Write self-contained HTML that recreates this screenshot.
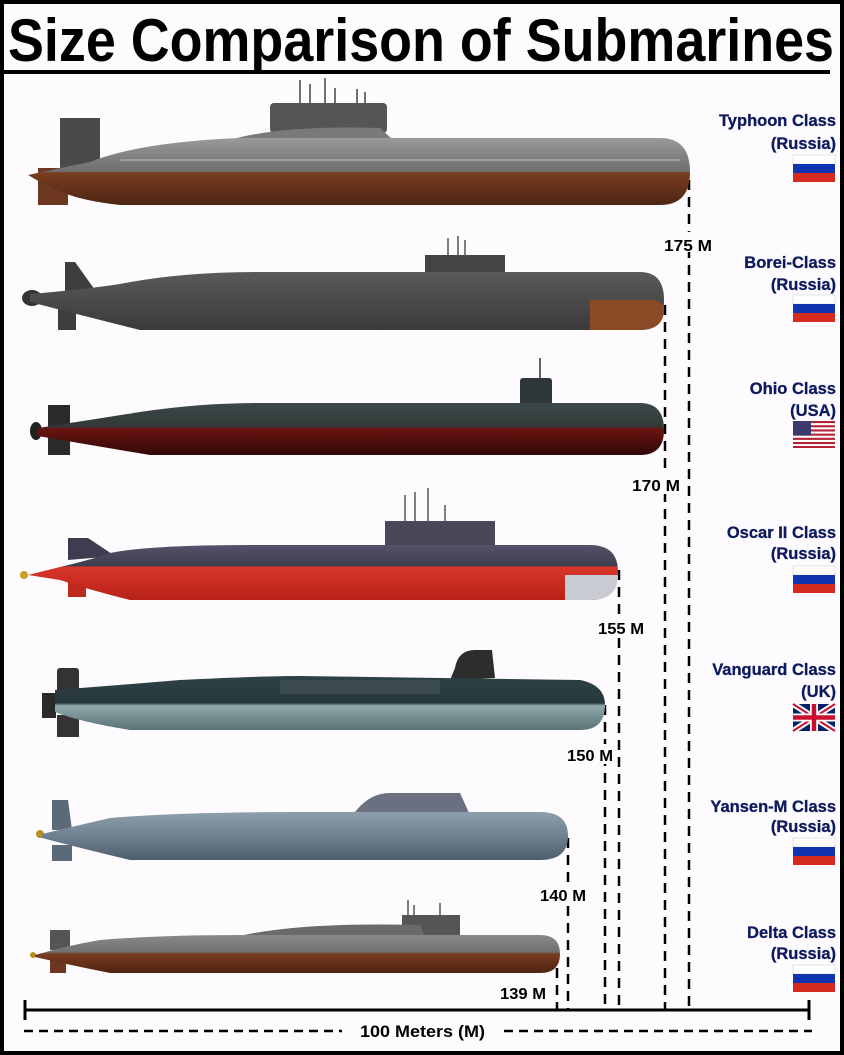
<!DOCTYPE html>
<html><head><meta charset="utf-8"><style>
html,body{margin:0;padding:0;background:#fff}
svg{display:block}
text{font-family:"Liberation Sans",sans-serif;font-weight:bold}
</style></head><body>
<svg width="844" height="1055" viewBox="0 0 844 1055" xmlns="http://www.w3.org/2000/svg">
<rect x="0" y="0" width="844" height="1055" fill="#fdfbfd"/>
<rect x="2" y="2" width="840" height="1051" fill="none" stroke="#000" stroke-width="4"/>
<text x="8" y="61" font-size="60" textLength="826" lengthAdjust="spacingAndGlyphs" fill="#000">Size Comparison of Submarines</text>
<rect x="4" y="70" width="826" height="4" fill="#000"/>

<g stroke="#000" stroke-width="2.5" stroke-dasharray="10,7">
<line x1="689" y1="180" x2="689" y2="1010"/>
<line x1="665" y1="305" x2="665" y2="1010"/>
<line x1="619" y1="570" x2="619" y2="1010"/>
<line x1="605" y1="705" x2="605" y2="1010"/>
<line x1="568" y1="838" x2="568" y2="1010"/>
<line x1="557" y1="968" x2="557" y2="1010"/>
</g>
<g font-size="16" fill="#000">
<rect x="662" y="232" width="52" height="20" fill="#fdfbfd"/><text x="664" y="251" textLength="48" lengthAdjust="spacingAndGlyphs">175 M</text>
<rect x="630" y="474" width="52" height="20" fill="#fdfbfd"/><text x="632" y="491" textLength="48" lengthAdjust="spacingAndGlyphs">170 M</text>
<rect x="596" y="617" width="50" height="20" fill="#fdfbfd"/><text x="598" y="634" textLength="46" lengthAdjust="spacingAndGlyphs">155 M</text>
<rect x="565" y="744" width="48" height="20" fill="#fdfbfd"/><text x="567" y="761" textLength="46" lengthAdjust="spacingAndGlyphs">150 M</text>
<rect x="538" y="884" width="50" height="20" fill="#fdfbfd"/><text x="540" y="901" textLength="46" lengthAdjust="spacingAndGlyphs">140 M</text>
<text x="500" y="999" textLength="46" lengthAdjust="spacingAndGlyphs">139 M</text>
</g>

<line x1="24" y1="1010" x2="810" y2="1010" stroke="#000" stroke-width="3"/>
<line x1="25" y1="1000" x2="25" y2="1020" stroke="#000" stroke-width="3"/>
<line x1="809" y1="1000" x2="809" y2="1020" stroke="#000" stroke-width="3"/>
<g stroke="#000" stroke-width="2.5" stroke-dasharray="9,6">
<line x1="24" y1="1031" x2="342" y2="1031"/>
<line x1="504" y1="1031" x2="812" y2="1031"/>
</g>
<text x="360" y="1037" font-size="17" textLength="125" lengthAdjust="spacingAndGlyphs">100 Meters (M)</text>

<g font-size="16.5" fill="#0d1a5e" text-anchor="end" stroke="#0d1a5e" stroke-width="0.3">
<text x="836" y="126">Typhoon Class</text><text x="836" y="149">(Russia)</text>
<text x="836" y="268">Borei-Class</text><text x="836" y="290">(Russia)</text>
<text x="836" y="394">Ohio Class</text><text x="836" y="416">(USA)</text>
<text x="836" y="538">Oscar II Class</text><text x="836" y="559">(Russia)</text>
<text x="836" y="675">Vanguard Class</text><text x="836" y="697">(UK)</text>
<text x="836" y="812">Yansen-M Class</text><text x="836" y="832">(Russia)</text>
<text x="836" y="938">Delta Class</text><text x="836" y="959">(Russia)</text>
</g>
<g id="ru1"><rect x="793" y="155" width="42" height="9" fill="#fff" stroke="#ccc" stroke-width="0.5"/><rect x="793" y="164" width="42" height="9" fill="#1034b0"/><rect x="793" y="173" width="42" height="9" fill="#d52b1e"/></g>
<use href="#ru1" y="140"/>
<use href="#ru1" y="411"/>
<use href="#ru1" y="683"/>
<use href="#ru1" y="810"/>
<g>
<rect x="793" y="421" width="42" height="27" fill="#fff"/>
<g fill="#b22234"><rect x="793" y="421" width="42" height="2.1"/><rect x="793" y="425.2" width="42" height="2.1"/><rect x="793" y="429.4" width="42" height="2.1"/><rect x="793" y="433.6" width="42" height="2.1"/><rect x="793" y="437.8" width="42" height="2.1"/><rect x="793" y="442" width="42" height="2.1"/><rect x="793" y="446" width="42" height="2"/></g>
<rect x="793" y="421" width="18" height="14.5" fill="#3c3b6e"/>
</g>
<g>
<rect x="793" y="704" width="42" height="27" fill="#012169"/>
<path d="M793 704L835 731M835 704L793 731" stroke="#fff" stroke-width="6"/>
<path d="M793 704L835 731M835 704L793 731" stroke="#c8102e" stroke-width="2"/>
<path d="M814 704V731M793 717.5H835" stroke="#fff" stroke-width="8"/>
<path d="M814 704V731M793 717.5H835" stroke="#c8102e" stroke-width="4.5"/>
</g>

<defs>
<linearGradient id="g1" x1="0" y1="0" x2="0" y2="1"><stop offset="0" stop-color="#9a9a9a"/><stop offset="0.5" stop-color="#6e6e6e"/><stop offset="0.52" stop-color="#7a3c20"/><stop offset="1" stop-color="#4e2614"/></linearGradient>
<linearGradient id="g2" x1="0" y1="0" x2="0" y2="1"><stop offset="0" stop-color="#5a5a5a"/><stop offset="1" stop-color="#3a3a3a"/></linearGradient>
<linearGradient id="g3" x1="0" y1="0" x2="0" y2="1"><stop offset="0" stop-color="#3d4848"/><stop offset="0.45" stop-color="#323838"/><stop offset="0.5" stop-color="#6a1410"/><stop offset="1" stop-color="#300808"/></linearGradient>
<linearGradient id="g4" x1="0" y1="0" x2="0" y2="1"><stop offset="0" stop-color="#55526a"/><stop offset="0.38" stop-color="#3e3c4e"/><stop offset="0.4" stop-color="#d8362a"/><stop offset="1" stop-color="#b82218"/></linearGradient>
<linearGradient id="g5" x1="0" y1="0" x2="0" y2="1"><stop offset="0" stop-color="#2e4246"/><stop offset="0.5" stop-color="#26383c"/><stop offset="0.55" stop-color="#8fa8ac"/><stop offset="1" stop-color="#5a7276"/></linearGradient>
<linearGradient id="g6" x1="0" y1="0" x2="0" y2="1"><stop offset="0" stop-color="#8e9eac"/><stop offset="0.5" stop-color="#6f8090"/><stop offset="1" stop-color="#4e5e6e"/></linearGradient>
<linearGradient id="g7" x1="0" y1="0" x2="0" y2="1"><stop offset="0" stop-color="#8a8a8a"/><stop offset="0.45" stop-color="#707070"/><stop offset="0.5" stop-color="#7a3c20"/><stop offset="1" stop-color="#4e2412"/></linearGradient>
</defs>

<g>
<rect x="60" y="118" width="40" height="55" fill="#4a4a4a"/>
<rect x="38" y="168" width="30" height="37" fill="#6e3820"/>
<rect x="270" y="103" width="117" height="30" rx="4" fill="#555"/>
<path d="M230 140 Q280 125 380 128 L395 142Z" fill="#7a7a7a"/>
<g stroke="#444" stroke-width="1.5"><line x1="300" y1="80" x2="300" y2="103"/><line x1="310" y1="84" x2="310" y2="103"/><line x1="325" y1="78" x2="325" y2="103"/><line x1="335" y1="88" x2="335" y2="103"/><line x1="357" y1="89" x2="357" y2="103"/><line x1="365" y1="92" x2="365" y2="103"/></g>
<path d="M28 175 Q60 168 90 162 Q140 142 240 138 L660 138 Q690 138 690 172 Q690 205 660 205 L120 205 Q70 200 40 182 Z" fill="url(#g1)"/>
<line x1="120" y1="160" x2="680" y2="160" stroke="#bbb" stroke-width="1"/>
</g>

<g>
<path d="M65 262 L75 262 L95 290 L65 295Z" fill="#3e3e3e"/>
<rect x="58" y="300" width="18" height="30" fill="#3e3e3e"/>
<rect x="425" y="255" width="80" height="22" fill="#444"/>
<g stroke="#555" stroke-width="1.5"><line x1="448" y1="238" x2="448" y2="256"/><line x1="458" y1="236" x2="458" y2="256"/><line x1="465" y1="240" x2="465" y2="256"/></g>
<ellipse cx="32" cy="298" rx="10" ry="8" fill="#333"/>
<path d="M30 294 Q80 290 120 284 Q180 272 260 272 L640 272 Q664 272 664 300 Q664 330 640 330 L140 330 Q80 315 30 302Z" fill="url(#g2)"/>
<path d="M590 300 L650 300 Q664 300 664 312 Q662 330 640 330 L590 330Z" fill="#8a4a25"/>
</g>

<g>
<rect x="48" y="405" width="22" height="50" fill="#2a2a2a"/>
<rect x="520" y="378" width="32" height="28" rx="3" fill="#2e3838"/>
<line x1="540" y1="358" x2="540" y2="378" stroke="#333" stroke-width="1.5"/>
<ellipse cx="36" cy="431" rx="6" ry="9" fill="#222"/>
<path d="M38 428 Q90 420 140 412 Q200 403 260 403 L640 403 Q664 403 664 430 Q664 455 640 455 L150 455 Q90 445 38 436Z" fill="url(#g3)"/>
</g>

<g>
<path d="M68 538 L88 538 L115 556 L68 560Z" fill="#3e3c4e"/>
<rect x="68" y="575" width="18" height="22" fill="#c02a1e"/>
<rect x="385" y="521" width="110" height="25" fill="#4a4858"/>
<g stroke="#555" stroke-width="1.5"><line x1="405" y1="495" x2="405" y2="521"/><line x1="415" y1="492" x2="415" y2="521"/><line x1="428" y1="488" x2="428" y2="521"/><line x1="445" y1="505" x2="445" y2="521"/></g>
<circle cx="24" cy="575" r="4" fill="#c8a020"/>
<path d="M28 575 L60 567 Q90 560 110 553 Q150 545 250 545 L590 545 Q618 545 618 572 Q618 600 590 600 L130 600 Q90 590 60 580Z" fill="url(#g4)"/>
<path d="M565 575 L618 575 Q618 600 590 600 L565 600Z" fill="#c8ccd2"/>
</g>

<g>
<rect x="57" y="668" width="22" height="40" rx="3" fill="#333"/>
<rect x="57" y="715" width="22" height="22" fill="#333"/>
<path d="M455 668 Q458 650 475 650 L492 650 L495 678 L450 680Z" fill="#2d2d2d"/>
<rect x="42" y="693" width="14" height="25" fill="#2a2a2a"/>
<path d="M55 690 Q120 685 180 680 Q260 676 300 676 L580 680 Q605 685 605 705 Q605 730 580 730 L130 730 Q80 722 55 712Z" fill="url(#g5)"/>
<rect x="280" y="680" width="160" height="14" fill="#3a4a50"/>
</g>

<g>
<path d="M52 800 L68 800 L72 830 L52 830Z" fill="#5a6a78"/>
<rect x="52" y="845" width="20" height="16" fill="#5a6a78"/>
<path d="M355 812 Q370 793 390 793 L460 793 L470 815Z" fill="#6a7080"/>
<circle cx="40" cy="834" r="4" fill="#b89020"/>
<path d="M42 834 Q80 825 110 818 Q180 812 300 812 L540 812 Q568 812 568 836 Q568 860 540 860 L130 860 Q80 848 42 838Z" fill="url(#g6)"/>
</g>

<g>
<rect x="50" y="930" width="20" height="20" fill="#555"/>
<rect x="50" y="955" width="16" height="18" fill="#6e3820"/>
<rect x="402" y="915" width="58" height="22" fill="#555"/>
<g stroke="#555" stroke-width="1.5"><line x1="408" y1="900" x2="408" y2="915"/><line x1="414" y1="905" x2="414" y2="915"/><line x1="440" y1="903" x2="440" y2="915"/></g>
<path d="M240 936 Q300 922 420 925 L425 936Z" fill="#6a6a6a"/>
<circle cx="33" cy="955" r="3" fill="#b89020"/>
<path d="M35 955 Q70 945 100 940 Q160 935 240 935 L540 935 Q560 935 560 954 Q560 973 540 973 L110 973 Q70 965 35 957Z" fill="url(#g7)"/>
</g>
</svg>
</body></html>
